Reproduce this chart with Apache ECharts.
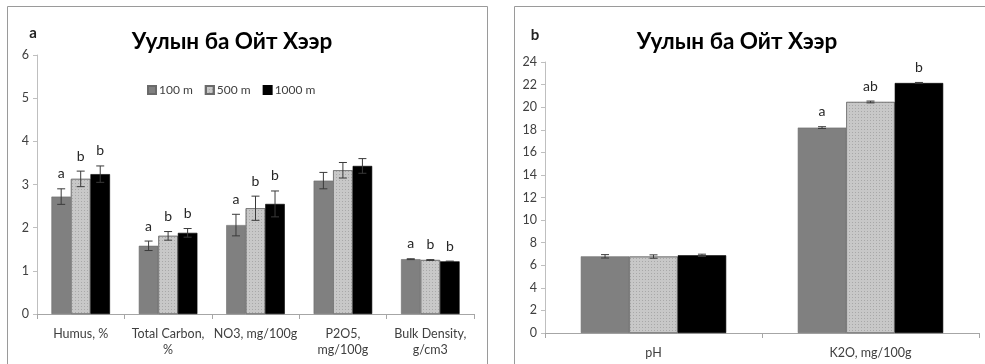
<!DOCTYPE html>
<html>
<head>
<meta charset="utf-8">
<script src="https://cdn.jsdelivr.net/npm/echarts@6/dist/echarts.min.js"></script>
<style>
html,body{margin:0;padding:0;background:#fff;}
#chart{width:985px;height:364px;}
</style>
</head>
<body>
<div id="chart"></div>
<script>
// ---- Data ----
const titleText = 'Уулын ба Ойт Хээр';
const seriesNames = ['100 m', '500 m', '1000 m'];

// Panel a
const categoriesA = ['Humus, %', 'Total Carbon,\n%', 'NO3, mg/100g', 'P2O5,\nmg/100g', 'Bulk Density,\ng/cm3'];
const a100 = [2.72, 1.58, 2.06, 3.09, 1.27];
const a500 = [3.13, 1.81, 2.45, 3.33, 1.25];
const a1000 = [3.24, 1.88, 2.55, 3.43, 1.22];
const aErr100 = [0.18, 0.11, 0.25, 0.19, 0.01];
const aErr500 = [0.18, 0.10, 0.28, 0.18, 0.01];
const aErr1000 = [0.19, 0.10, 0.30, 0.17, 0.005];
const aLet100 = ['a', 'a', 'a', '', 'a'];
const aLet500 = ['b', 'b', 'b', '', 'b'];
const aLet1000 = ['b', 'b', 'b', '', 'b'];
const aTicks = [0, 1, 2, 3, 4, 5, 6];

// Panel b
const categoriesB = ['pH', 'K2O, mg/100g'];
const b100 = [6.79, 18.19];
const b500 = [6.77, 20.46];
const b1000 = [6.88, 22.14];
const bErr100 = [0.15, 0.08];
const bErr500 = [0.15, 0.08];
const bErr1000 = [0.10, 0.05];
const bLet100 = ['', 'a'];
const bLet500 = ['', 'ab'];
const bLet1000 = ['', 'b'];
const bTicks = [0, 2, 4, 6, 8, 10, 12, 14, 16, 18, 20, 22, 24];

// ---- Styling ----
const FONT = 'Lato, "Noto Sans", sans-serif';
const colors = ['#808080', '#c8c8c8', '#000000'];
const GAP = 0.33;

const chart = echarts.init(document.getElementById('chart'));

function barSeries(name, data, k, axisIdx) {
  const itemStyle = { color: colors[k], borderColor: k === 2 ? '#000' : '#6a6a6a', borderWidth: 0.6 };
  if (k === 1) {
    itemStyle.decal = { symbol: 'rect', symbolSize: 1, color: 'rgba(110,110,110,0.35)',
                        dashArrayX: [1, 2], dashArrayY: [1, 2], rotation: 0 };
  }
  return {
    name: name, type: 'bar', xAxisIndex: axisIdx, yAxisIndex: axisIdx,
    data: data, barGap: '0%', barCategoryGap: (GAP * 100) + '%',
    itemStyle: itemStyle,
    emphasis: { disabled: true }, animation: false
  };
}

function errSeries(vals, errs, letters, k, axisIdx) {
  return {
    type: 'custom', xAxisIndex: axisIdx, yAxisIndex: axisIdx, z: 10, animation: false,
    silent: true,
    data: vals.map((v, i) => [i, v, errs[i]]),
    encode: { x: 0, y: 1 },
    renderItem: function (params, api) {
      const i = api.value(0), v = api.value(1), e = api.value(2);
      const catW = api.size([1, 0])[0];
      const bw = catW * (1 - GAP) / 3;
      const c = api.coord([i, v + e]);
      const d = api.coord([i, v - e]);
      const x = c[0] + (k - 1) * bw;
      const cap = 4;
      const st = { stroke: '#3a3a3a', lineWidth: 1 };
      const children = [
        { type: 'line', shape: { x1: x, y1: c[1], x2: x, y2: d[1] }, style: st },
        { type: 'line', shape: { x1: x - cap, y1: c[1], x2: x + cap, y2: c[1] }, style: st },
        { type: 'line', shape: { x1: x - cap, y1: d[1], x2: x + cap, y2: d[1] }, style: st }
      ];
      const lt = letters[params.dataIndex];
      if (lt) {
        children.push({
          type: 'text',
          style: { text: lt, x: x, y: c[1] - 8, textAlign: 'center', textVerticalAlign: 'bottom',
                   fontSize: 14, fontFamily: FONT, fill: '#262626' }
        });
      }
      return { type: 'group', children: children };
    }
  };
}

const axisLabelStyle = { color: '#404040', fontSize: 12.5, fontFamily: FONT };

const option = {
  backgroundColor: '#fff',
  textStyle: { fontFamily: FONT },
  title: [
    { text: titleText, left: 227, top: 25, textAlign: 'center',
      textStyle: { fontSize: 22.5, fontWeight: 'bold', color: '#000', fontFamily: FONT } },
    { text: titleText, left: 732, top: 25, textAlign: 'center',
      textStyle: { fontSize: 22.5, fontWeight: 'bold', color: '#000', fontFamily: FONT } },
    { text: 'a', left: 28, top: 21, textAlign: 'center',
      textStyle: { fontSize: 15, fontWeight: 'bold', color: '#222', fontFamily: FONT } },
    { text: 'b', left: 530, top: 23, textAlign: 'center',
      textStyle: { fontSize: 15, fontWeight: 'bold', color: '#222', fontFamily: FONT } }
  ],
  legend: {
    data: seriesNames, left: 142, top: 79, itemWidth: 8, itemHeight: 8, itemGap: 12,
    icon: 'rect', selectedMode: false,
    textStyle: { fontSize: 12, color: '#404040', fontFamily: FONT, padding: [0, 0, 0, -2] }
  },
  graphic: [
    { type: 'rect', shape: { x: 7.5, y: 6.5, width: 480, height: 380 },
      style: { fill: 'none', stroke: '#9a9a9a', lineWidth: 1 }, silent: true, z: -1 },
    { type: 'rect', shape: { x: 514.5, y: 6.5, width: 480, height: 380 },
      style: { fill: 'none', stroke: '#9a9a9a', lineWidth: 1 }, silent: true, z: -1 }
  ],
  grid: [
    { left: 37, right: 511, top: 55, bottom: 50 },
    { left: 545, right: 6, top: 62, bottom: 31 }
  ],
  xAxis: [
    { type: 'category', gridIndex: 0, data: categoriesA,
      axisLine: { lineStyle: { color: '#a6a6a6' } },
      axisTick: { show: true, length: 5, lineStyle: { color: '#a6a6a6' } },
      axisLabel: Object.assign({ interval: 0, margin: 12, lineHeight: 16 }, axisLabelStyle) },
    { type: 'category', gridIndex: 1, data: categoriesB,
      axisLine: { lineStyle: { color: '#a6a6a6' } },
      axisTick: { show: true, length: 5, lineStyle: { color: '#a6a6a6' } },
      axisLabel: Object.assign({ interval: 0, margin: 12, lineHeight: 16 }, axisLabelStyle) }
  ],
  yAxis: [
    { type: 'value', gridIndex: 0, min: aTicks[0], max: aTicks[aTicks.length - 1], interval: aTicks[1] - aTicks[0],
      axisLine: { show: true, lineStyle: { color: '#bfbfbf' } },
      axisTick: { show: true, length: 4, lineStyle: { color: '#bfbfbf' } },
      splitLine: { show: false },
      axisLabel: Object.assign({ margin: 8 }, axisLabelStyle) },
    { type: 'value', gridIndex: 1, min: bTicks[0], max: bTicks[bTicks.length - 1], interval: bTicks[1] - bTicks[0],
      axisLine: { show: true, lineStyle: { color: '#bfbfbf' } },
      axisTick: { show: true, length: 4, lineStyle: { color: '#bfbfbf' } },
      splitLine: { show: false },
      axisLabel: Object.assign({ margin: 8 }, axisLabelStyle) }
  ],
  series: [
    barSeries(seriesNames[0], a100, 0, 0),
    barSeries(seriesNames[1], a500, 1, 0),
    barSeries(seriesNames[2], a1000, 2, 0),
    barSeries(seriesNames[0], b100, 0, 1),
    barSeries(seriesNames[1], b500, 1, 1),
    barSeries(seriesNames[2], b1000, 2, 1),
    errSeries(a100, aErr100, aLet100, 0, 0),
    errSeries(a500, aErr500, aLet500, 1, 0),
    errSeries(a1000, aErr1000, aLet1000, 2, 0),
    errSeries(b100, bErr100, bLet100, 0, 1),
    errSeries(b500, bErr500, bLet500, 1, 1),
    errSeries(b1000, bErr1000, bLet1000, 2, 1)
  ]
};
chart.setOption(option);
</script>
</body>
</html>
